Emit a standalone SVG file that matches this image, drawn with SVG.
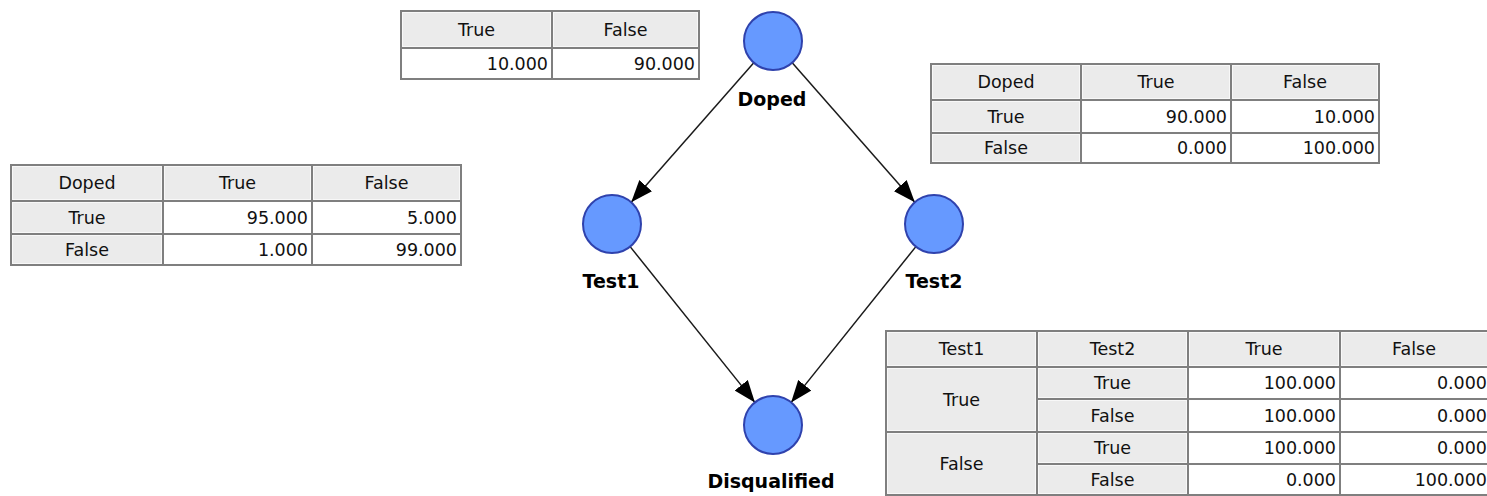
<svg xmlns="http://www.w3.org/2000/svg" width="1487" height="496" viewBox="0 0 1487 496">
  <defs>
    <style>
      .grid { fill: #7f7f7f; }
      .hc { fill: #ebebeb; stroke: #f8f8f8; stroke-width: 1; }
      .dc { fill: #ffffff; }
      .tc { font-family: "DejaVu Sans", Verdana, sans-serif; font-size: 17.5px; fill: #111; text-anchor: middle; }
      .tn { font-family: "DejaVu Sans", Verdana, sans-serif; font-size: 17.5px; fill: #111; text-anchor: end; }
      .node { fill: #6699ff; stroke: #2f42ad; stroke-width: 2; }
      .lbl { font-family: "DejaVu Sans", Verdana, sans-serif; font-size: 19px; font-weight: bold; fill: #000; text-anchor: middle; }
      .edge { stroke: #1a1a1a; stroke-width: 1.5; fill: none; marker-end: url(#arrow); }
    </style>
    <marker id="arrow" markerUnits="userSpaceOnUse" markerWidth="22" markerHeight="17" refX="22" refY="8.5" orient="auto">
      <path d="M0,0 L22,8.5 L0,17 z" fill="#000"/>
    </marker>
  </defs>
  <rect width="1487" height="496" fill="#ffffff"/>

  <!-- Prior table for Doped -->
  <g id="cpt-doped">
    <rect class="grid" x="400" y="10" width="300" height="70"/>
    <rect class="hc" x="402.5" y="12.5" width="148" height="34"/>
    <rect class="hc" x="553.5" y="12.5" width="144" height="34"/>
    <rect class="dc" x="402" y="49" width="149" height="29"/>
    <rect class="dc" x="553" y="49" width="145" height="29"/>
    <text class="tc" x="476.5" y="35.5">True</text>
    <text class="tc" x="625.5" y="35.5">False</text>
    <text class="tn" x="548" y="69.5">10.000</text>
    <text class="tn" x="695" y="69.5">90.000</text>
  </g>

  <!-- Conditional table for Test2 -->
  <g id="cpt-test2">
    <rect class="grid" x="930" y="63" width="450" height="101"/>
    <rect class="hc" x="932.5" y="65.5" width="147" height="33"/>
    <rect class="hc" x="1082.5" y="65.5" width="147" height="33"/>
    <rect class="hc" x="1232.5" y="65.5" width="145" height="33"/>
    <rect class="hc" x="932.5" y="101.5" width="147" height="30"/>
    <rect class="dc" x="1082" y="101" width="148" height="31"/>
    <rect class="dc" x="1232" y="101" width="146" height="31"/>
    <rect class="hc" x="932.5" y="134.5" width="147" height="27"/>
    <rect class="dc" x="1082" y="134" width="148" height="28"/>
    <rect class="dc" x="1232" y="134" width="146" height="28"/>
    <text class="tc" x="1006" y="88">Doped</text>
    <text class="tc" x="1156" y="88">True</text>
    <text class="tc" x="1305" y="88">False</text>
    <text class="tc" x="1006" y="122.5">True</text>
    <text class="tn" x="1227" y="122.5">90.000</text>
    <text class="tn" x="1375" y="122.5">10.000</text>
    <text class="tc" x="1006" y="154">False</text>
    <text class="tn" x="1227" y="154">0.000</text>
    <text class="tn" x="1375" y="154">100.000</text>
  </g>

  <!-- Conditional table for Test1 -->
  <g id="cpt-test1">
    <rect class="grid" x="10" y="164" width="452" height="102"/>
    <rect class="hc" x="12.5" y="166.5" width="149" height="33"/>
    <rect class="hc" x="164.5" y="166.5" width="146" height="33"/>
    <rect class="hc" x="313.5" y="166.5" width="146" height="33"/>
    <rect class="hc" x="12.5" y="202.5" width="149" height="30"/>
    <rect class="dc" x="164" y="202" width="147" height="31"/>
    <rect class="dc" x="313" y="202" width="147" height="31"/>
    <rect class="hc" x="12.5" y="235.5" width="149" height="28"/>
    <rect class="dc" x="164" y="235" width="147" height="29"/>
    <rect class="dc" x="313" y="235" width="147" height="29"/>
    <text class="tc" x="87" y="189">Doped</text>
    <text class="tc" x="237.5" y="189">True</text>
    <text class="tc" x="386.5" y="189">False</text>
    <text class="tc" x="87" y="223.5">True</text>
    <text class="tn" x="308" y="223.5">95.000</text>
    <text class="tn" x="457" y="223.5">5.000</text>
    <text class="tc" x="87" y="255.5">False</text>
    <text class="tn" x="308" y="255.5">1.000</text>
    <text class="tn" x="457" y="255.5">99.000</text>
  </g>

  <!-- Conditional table for Disqualified -->
  <g id="cpt-disqualified">
    <rect class="grid" x="885" y="330" width="610" height="170"/>
    <rect class="hc" x="887.5" y="332.5" width="148" height="33"/>
    <rect class="hc" x="1038.5" y="332.5" width="148" height="33"/>
    <rect class="hc" x="1189.5" y="332.5" width="149" height="33"/>
    <rect class="hc" x="1341.5" y="332.5" width="160" height="33"/>
    <rect class="hc" x="887.5" y="368.5" width="148" height="62"/>
    <rect class="hc" x="887.5" y="433.5" width="148" height="60"/>
    <rect class="hc" x="1038.5" y="368.5" width="148" height="29"/>
    <rect class="hc" x="1038.5" y="400.5" width="148" height="30"/>
    <rect class="hc" x="1038.5" y="433.5" width="148" height="29"/>
    <rect class="hc" x="1038.5" y="465.5" width="148" height="28"/>
    <rect class="dc" x="1189" y="368" width="150" height="30"/>
    <rect class="dc" x="1341" y="368" width="160" height="30"/>
    <rect class="dc" x="1189" y="400" width="150" height="31"/>
    <rect class="dc" x="1341" y="400" width="160" height="31"/>
    <rect class="dc" x="1189" y="433" width="150" height="30"/>
    <rect class="dc" x="1341" y="433" width="160" height="30"/>
    <rect class="dc" x="1189" y="465" width="150" height="29"/>
    <rect class="dc" x="1341" y="465" width="160" height="29"/>
    <text class="tc" x="961.5" y="355">Test1</text>
    <text class="tc" x="1112.5" y="355">Test2</text>
    <text class="tc" x="1264" y="355">True</text>
    <text class="tc" x="1414" y="355">False</text>
    <text class="tc" x="961.5" y="405.5">True</text>
    <text class="tc" x="961.5" y="469.5">False</text>
    <text class="tc" x="1112.5" y="389">True</text>
    <text class="tc" x="1112.5" y="421.5">False</text>
    <text class="tc" x="1112.5" y="454">True</text>
    <text class="tc" x="1112.5" y="485.5">False</text>
    <text class="tn" x="1336" y="389">100.000</text>
    <text class="tn" x="1487" y="389">0.000</text>
    <text class="tn" x="1336" y="421.5">100.000</text>
    <text class="tn" x="1487" y="421.5">0.000</text>
    <text class="tn" x="1336" y="454">100.000</text>
    <text class="tn" x="1487" y="454">0.000</text>
    <text class="tn" x="1336" y="485.5">0.000</text>
    <text class="tn" x="1487" y="485.5">100.000</text>
  </g>

  <!-- Connectors -->
  <g id="edges">
    <line class="edge" x1="753.8" y1="62.8" x2="631.2" y2="202.2"/>
    <line class="edge" x1="792.2" y1="62.8" x2="914.8" y2="202.2"/>
    <line class="edge" x1="630.1" y1="246.6" x2="754.9" y2="402.4"/>
    <line class="edge" x1="915.9" y1="246.6" x2="791.1" y2="402.4"/>
  </g>

  <!-- Nodes -->
  <g id="node-doped">
    <circle class="node" cx="773" cy="41" r="29"/>
    <text class="lbl" x="772" y="106">Doped</text>
  </g>
  <g id="node-test1">
    <circle class="node" cx="612" cy="224" r="29"/>
    <text class="lbl" x="611" y="288">Test1</text>
  </g>
  <g id="node-test2">
    <circle class="node" cx="934" cy="224" r="29"/>
    <text class="lbl" x="934" y="288">Test2</text>
  </g>
  <g id="node-disqualified">
    <circle class="node" cx="773" cy="425" r="29"/>
    <text class="lbl" x="771" y="488">Disqualified</text>
  </g>
</svg>
